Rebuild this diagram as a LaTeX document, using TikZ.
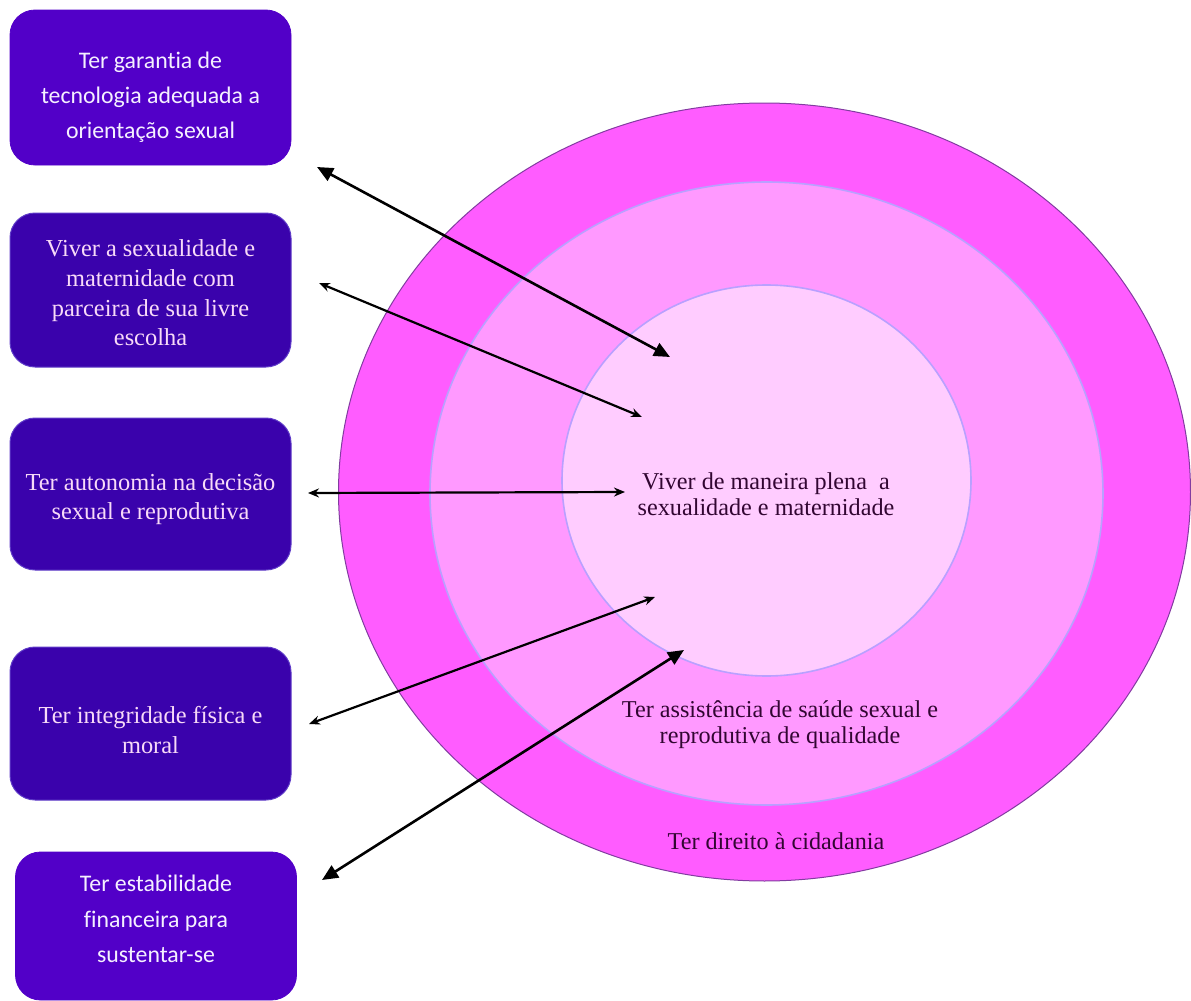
\documentclass[tikz,border=0pt]{standalone}
\usepackage{fontspec}
\setmainfont{Liberation Serif}
\newfontfamily\calibri[Ligatures=NoCommon]{Carlito}
\usetikzlibrary{arrows.meta,shapes.geometric}
\definecolor{outerc}{RGB}{255,92,255}
\definecolor{midc}{RGB}{255,153,255}
\definecolor{innerc}{RGB}{255,204,255}
\definecolor{outeredge}{RGB}{130,60,160}
\definecolor{ringedge}{RGB}{185,160,255}
\definecolor{calfill}{RGB}{82,0,200}
\definecolor{serfill}{RGB}{58,2,172}
\definecolor{seredge}{RGB}{95,60,200}
\definecolor{sertext}{RGB}{248,218,248}
\definecolor{caltext}{RGB}{245,240,255}
\definecolor{circtext}{RGB}{50,6,50}
\tikzset{
  calbox/.style={rounded corners=12.5pt, fill=calfill, draw=calfill, inner sep=0pt,
    minimum width=140.5pt},
  serbox/.style={rounded corners=12.5pt, fill=serfill, draw=seredge, line width=0.5pt,
    inner sep=0pt, minimum width=140.5pt},
  caltxt/.style={text=caltext, align=center, inner sep=0pt,
    font=\calibri\fontsize{11.9}{17.6}\selectfont},
  sertxt/.style={text=sertext, align=center, inner sep=0pt,
    font=\fontsize{12.2}{14.8}\selectfont},
  ring/.style={ellipse, inner sep=0pt},
  circlabel/.style={text=circtext, align=center, font=\fontsize{12.1}{13}\selectfont},
  bigarrow/.style={line width=1.3pt, {Triangle[length=8pt,width=7pt]}-{Triangle[length=8pt,width=7pt]}},
  smallarrow/.style={line width=1.1pt, {Stealth[length=5.5pt,width=4.5pt]}-{Stealth[length=5.5pt,width=4.5pt]}}
}
\begin{document}
\begin{tikzpicture}[x=0.5pt,y=-0.5pt]
\useasboundingbox (0,0) rectangle (1191,1001);
% rings
\node[ring, fill=outerc, draw=outeredge, line width=0.5pt, minimum width=426pt, minimum height=389pt] (outer) at (764.5,492) {};
\node[ring, fill=midc, draw=ringedge, line width=0.8pt, minimum width=336.5pt, minimum height=311.5pt] (middle) at (766.5,493.5) {};
\node[ring, fill=innerc, draw=ringedge, line width=0.8pt, minimum width=204.5pt, minimum height=195.5pt] (inner) at (766.5,480.5) {};
% circle labels
\node[circlabel] (tcenter) at (766,494) {Viver de maneira plena \ a\\sexualidade e maternidade};
\node[circlabel] (tmid) at (780,725) {Ter assistência de saúde sexual e\\reprodutiva de qualidade};
\node[circlabel] (tout) at (776,841) {Ter direito à cidadania};
% boxes
\node[calbox, minimum height=77.5pt] (b1) at (150.5,87.5) {};
\node[caltxt] (b1t) at (150.5,97) {Ter garantia de\\tecnologia adequada a\\orientação sexual};
\node[serbox, minimum height=77pt] (b2) at (150.5,290) {};
\node[sertxt] (b2t) at (150.5,293) {Viver a sexualidade e\\maternidade com\\parceira de sua livre\\escolha};
\node[serbox, minimum height=76pt] (b3) at (150.5,494) {};
\node[sertxt] (b3t) at (150.5,499) {Ter autonomia na decisão\\sexual e reprodutiva};
\node[serbox, minimum height=76.5pt] (b4) at (150.5,723.5) {};
\node[sertxt] (b4t) at (150.5,730) {Ter integridade física e\\moral};
\node[calbox, minimum height=74pt] (b5) at (156,926) {};
\node[caltxt] (b5t) at (156,919) {Ter estabilidade\\financeira para\\sustentar-se};
% arrow ends
\coordinate (a1s) at (317,167);
\coordinate (a1e) at (670,357);
\coordinate (a2s) at (319,283);
\coordinate (a2e) at (642,417);
\coordinate (a3s) at (308,493);
\coordinate (a3e) at (625,492);
\coordinate (a4s) at (309,724);
\coordinate (a4e) at (655,597);
\coordinate (a5s) at (322,880);
\coordinate (a5e) at (684,650);
\draw[bigarrow] (a1s) -- (a1e);
\draw[smallarrow] (a2s) -- (a2e);
\draw[smallarrow] (a3s) -- (a3e);
\draw[smallarrow] (a4s) -- (a4e);
\draw[bigarrow] (a5s) -- (a5e);
\end{tikzpicture}
\end{document}
